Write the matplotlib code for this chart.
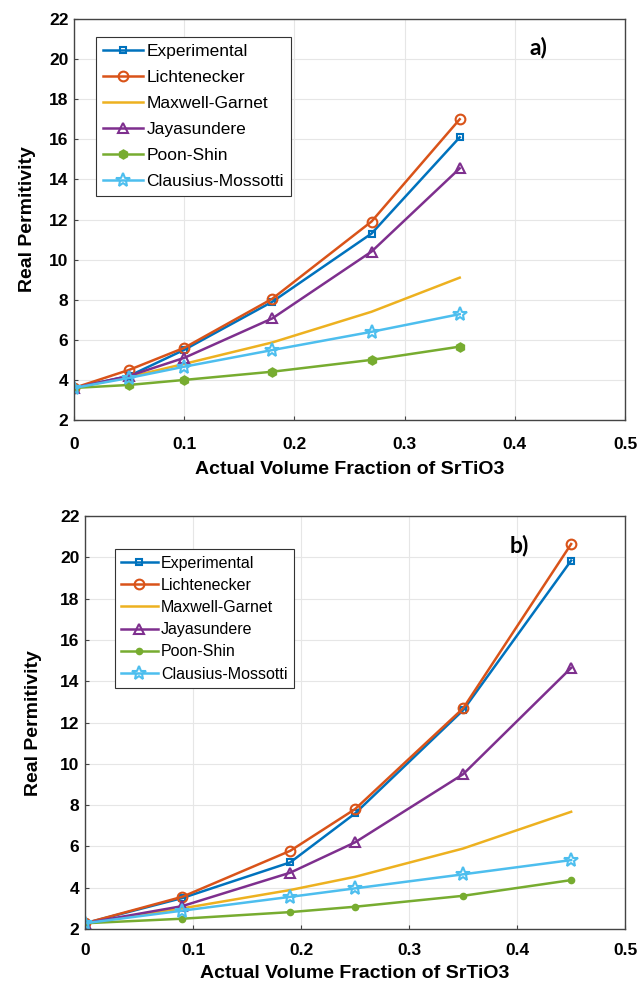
import numpy as np
import matplotlib
matplotlib.use("Agg")
import matplotlib.pyplot as plt

plt.rcParams['font.family'] = ['Liberation Sans', 'DejaVu Sans']

names = ["Experimental", "Lichtenecker", "Maxwell-Garnet", "Jayasundere",
         "Poon-Shin", "Clausius-Mossotti"]
colors = ["#0072BD", "#D95319", "#EDB120", "#7E2F8E", "#77AC30", "#4DBEEE"]

# panel a)
xa = [0, 0.05, 0.1, 0.18, 0.27, 0.35]
exp_a = [3.6, 4.2, 5.5, 7.9, 11.3, 16.1]
lich_a = [3.6, 4.5, 5.6, 8.05, 11.9, 17.0]
mg_a = [3.6, 4.15, 4.8, 5.87, 7.4, 9.1]
jaya_a = [3.6, 4.2, 5.1, 7.07, 10.4, 14.55]
poon_a = [3.6, 3.75, 4.0, 4.41, 5.0, 5.66]
cm_a = [3.6, 4.1, 4.66, 5.49, 6.4, 7.28]

# panel b)
xb = [0, 0.09, 0.19, 0.25, 0.35, 0.45]
exp_b = [2.28, 3.5, 5.23, 7.6, 12.6, 19.85]
lich_b = [2.28, 3.56, 5.79, 7.81, 12.69, 20.65]
mg_b = [2.28, 3.0, 3.89, 4.53, 5.9, 7.68]
jaya_b = [2.28, 3.11, 4.73, 6.2, 9.5, 14.65]
poon_b = [2.28, 2.5, 2.82, 3.08, 3.61, 4.37]
cm_b = [2.28, 2.89, 3.56, 3.97, 4.65, 5.34]

fig = plt.figure(figsize=(6.4, 9.83), dpi=100)
ax1 = fig.add_axes([0.1156, 0.5727, 0.861, 0.408])
ax2 = fig.add_axes([0.1328, 0.0549, 0.844, 0.420])


def draw(ax, x, series, markers, sizes, fills, label, lx, ly, legfs, legls,
         leg_bbox, xtpad, xlpad, ylpad):
    for name, c, y, mk, ms, fl in zip(names, colors, series, markers, sizes, fills):
        ax.plot(x, y, color=c, lw=1.8, marker=mk, ms=ms,
                mfc=c if fl else 'none', mec=c, mew=1.5, label=name)
    ax.set_xlim(0, 0.5)
    ax.set_ylim(2, 22)
    ax.set_xticks([0, 0.1, 0.2, 0.3, 0.4, 0.5])
    ax.set_xticklabels(["0", "0.1", "0.2", "0.3", "0.4", "0.5"])
    ax.set_yticks(range(2, 23, 2))
    ax.grid(True, color='#e6e6e6', lw=0.8)
    ax.set_axisbelow(True)
    ax.tick_params(direction='in', length=3, labelsize=12.5, color='#444444')
    ax.tick_params(axis='x', pad=xtpad)
    ax.tick_params(axis='y', pad=4)
    for lab in ax.get_xticklabels() + ax.get_yticklabels():
        lab.set_fontweight('bold')
    for s in ax.spines.values():
        s.set_color('#444444')
        s.set_linewidth(1.0)
    ax.set_xlabel("Actual Volume Fraction of SrTiO3", fontsize=14,
                  fontweight='bold', labelpad=xlpad)
    ax.set_ylabel("Real Permitivity", fontsize=14, fontweight='bold',
                  labelpad=ylpad)
    ax.text(lx, ly, label, fontsize=16.5, fontweight='bold',
            family=['Lato', 'DejaVu Sans'], ha='left', va='center')
    leg = ax.legend(loc='upper left', bbox_to_anchor=leg_bbox, fontsize=legfs,
                    frameon=True, fancybox=False, handlelength=2.3,
                    handletextpad=0.2, borderpad=0.4, labelspacing=legls,
                    borderaxespad=0)
    leg.get_frame().set_edgecolor('#333333')
    leg.get_frame().set_linewidth(0.8)
    leg.get_frame().set_alpha(1)


draw(ax1, xa, [exp_a, lich_a, mg_a, jaya_a, poon_a, cm_a],
     ['s', 'o', '', '^', 'h', '*'], [5, 7, 0, 7, 6, 10],
     [False, False, False, False, True, False], "a)", 0.413, 20.6,
     12.5, 0.62, (0.04, 0.955), 12, 7, 9)
draw(ax2, xb, [exp_b, lich_b, mg_b, jaya_b, poon_b, cm_b],
     ['s', 'o', '', '^', 'o', '*'], [4, 7, 0, 7, 4, 10],
     [False, False, False, False, True, False], "b)", 0.393, 20.6,
     11.5, 0.45, (0.055, 0.92), 10, 5, 13)

fig.savefig("out.png", dpi=100)
